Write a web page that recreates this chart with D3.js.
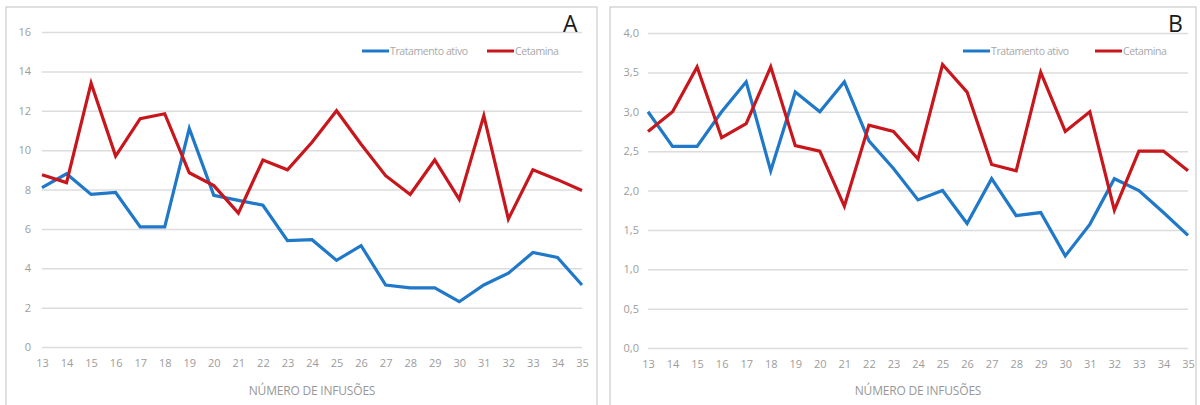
<!DOCTYPE html>
<html>
<head>
<meta charset="utf-8">
<script src="https://cdn.jsdelivr.net/npm/d3@7"></script>
<style>
  html, body { margin: 0; padding: 0; background: #fff; }
  svg { display: block; }
</style>
</head>
<body>
<svg id="chart" width="1200" height="405"></svg>
<script>
// Infusion numbers on the x axis
const infusions = [13, 14, 15, 16, 17, 18, 19, 20, 21, 22, 23, 24, 25, 26, 27, 28, 29, 30, 31, 32, 33, 34, 35];

// Panel A
const ativoA =    [8.1, 8.8, 7.75, 7.85, 6.1, 6.1, 11.1, 7.7, 7.45, 7.2, 5.4, 5.45, 4.4, 5.15, 3.15, 3.0, 3.0, 2.3, 3.15, 3.75, 4.8, 4.55, 3.15];
const cetaminaA = [8.75, 8.35, 13.4, 9.7, 11.6, 11.85, 8.85, 8.2, 6.8, 9.5, 9.0, 10.4, 12.0, 10.3, 8.7, 7.75, 9.5, 7.5, 11.75, 6.5, 9.0, 8.5, 7.95];
const yTicksA = [0, 2, 4, 6, 8, 10, 12, 14, 16];

// Panel B
const ativoB =    [3.0, 2.56, 2.56, 3.0, 3.38, 2.25, 3.25, 3.0, 3.38, 2.63, 2.28, 1.88, 2.0, 1.58, 2.15, 1.68, 1.72, 1.17, 1.57, 2.15, 2.0, 1.72, 1.43];
const cetaminaB = [2.75, 3.0, 3.57, 2.67, 2.85, 3.57, 2.57, 2.5, 1.8, 2.83, 2.75, 2.4, 3.6, 3.25, 2.33, 2.25, 3.5, 2.75, 3.0, 1.75, 2.5, 2.5, 2.25];
const yTicksB = [0, 0.5, 1, 1.5, 2, 2.5, 3, 3.5, 4];

const seriesNames = ["Tratamento ativo", "Cetamina"];
const seriesColors = ["#1f78c8", "#c8161d"];
const axisTitle = "NÚMERO DE INFUSÕES";

const ptBR = d3.formatLocale({ decimal: ",", thousands: ".", grouping: [3], currency: ["R$", ""] });

const svg = d3.select("#chart");

function drawPanel(opt) {
  const g = svg.append("g");

  // panel frame
  g.append("rect")
    .attr("x", opt.frame[0]).attr("y", opt.frame[1])
    .attr("width", opt.frame[2]).attr("height", opt.frame[3])
    .attr("fill", "#fff").attr("stroke", "#cfcfcf").attr("stroke-width", 1.3);

  const x = d3.scaleLinear().domain([infusions[0], infusions[infusions.length - 1]]).range([opt.x0, opt.x1]);
  const y = d3.scaleLinear().domain(opt.yDomain).range([opt.yBottom, opt.yTop]);

  // horizontal gridlines + y labels
  const yAxis = d3.axisLeft(y).tickValues(opt.yTicks).tickFormat(opt.yFormat)
    .tickSize(-(opt.x1 - opt.x0)).tickPadding(opt.yPad);
  const ya = g.append("g").attr("transform", `translate(${opt.x0},0)`).call(yAxis);
  ya.select(".domain").remove();
  ya.selectAll(".tick line").attr("stroke", "#dcdcdc").attr("stroke-width", 1.5);
  ya.selectAll(".tick text")
    .attr("fill", "#9c9c9c").style("font-family", "'Open Sans', sans-serif").style("font-size", "11px");

  // x labels
  const xAxis = d3.axisBottom(x).tickValues(infusions).tickFormat(d3.format("d")).tickSize(0).tickPadding(12);
  const xa = g.append("g").attr("transform", `translate(0,${opt.yBottom})`).call(xAxis);
  xa.select(".domain").remove();
  xa.selectAll(".tick text")
    .attr("fill", "#9c9c9c").style("font-family", "'Open Sans', sans-serif").style("font-size", "11px");

  // axis title
  g.append("text")
    .attr("x", (opt.x0 + opt.x1) / 2).attr("y", 395)
    .attr("text-anchor", "middle")
    .attr("fill", "#979797")
    .style("font-family", "'Open Sans', sans-serif").style("font-size", "12px")
    .style("letter-spacing", "-0.2px")
    .text(axisTitle);

  // series lines
  const line = d3.line().x((d, i) => x(infusions[i])).y(d => y(d));
  opt.series.forEach((vals, k) => {
    g.append("path")
      .datum(vals)
      .attr("d", line)
      .attr("fill", "none")
      .attr("stroke", seriesColors[k])
      .attr("stroke-width", 3.2)
      .attr("stroke-linejoin", "miter");
  });

  // legend
  opt.legend.forEach((lx, k) => {
    g.append("line")
      .attr("x1", lx).attr("x2", lx + 27)
      .attr("y1", 51).attr("y2", 51)
      .attr("stroke", seriesColors[k]).attr("stroke-width", 3);
    g.append("text")
      .attr("x", lx + 28).attr("y", 55)
      .attr("fill", "#a8a8a8")
      .style("font-family", "'Open Sans', sans-serif").style("font-size", "10.5px")
      .style("letter-spacing", "-0.4px")
      .text(seriesNames[k]);
  });

  // panel letter
  g.append("text")
    .attr("x", opt.letterX).attr("y", 32)
    .attr("fill", "#1a1a1a")
    .style("font-family", "'Open Sans', sans-serif").style("font-size", "23px")
    .text(opt.letter);
}

drawPanel({
  frame: [6, 7, 591, 410],
  x0: 42, x1: 582,
  yDomain: [0, 16], yBottom: 347, yTop: 32,
  yTicks: yTicksA, yFormat: d3.format("d"), yPad: 11,
  series: [ativoA, cetaminaA],
  legend: [362, 487],
  letter: "A", letterX: 563
});

drawPanel({
  frame: [610, 7, 586, 410],
  x0: 648, x1: 1188,
  yDomain: [0, 4], yBottom: 348, yTop: 33,
  yTicks: yTicksB, yFormat: ptBR.format(".1f"), yPad: 9,
  series: [ativoB, cetaminaB],
  legend: [963, 1095],
  letter: "B", letterX: 1168
});
</script>
</body>
</html>
